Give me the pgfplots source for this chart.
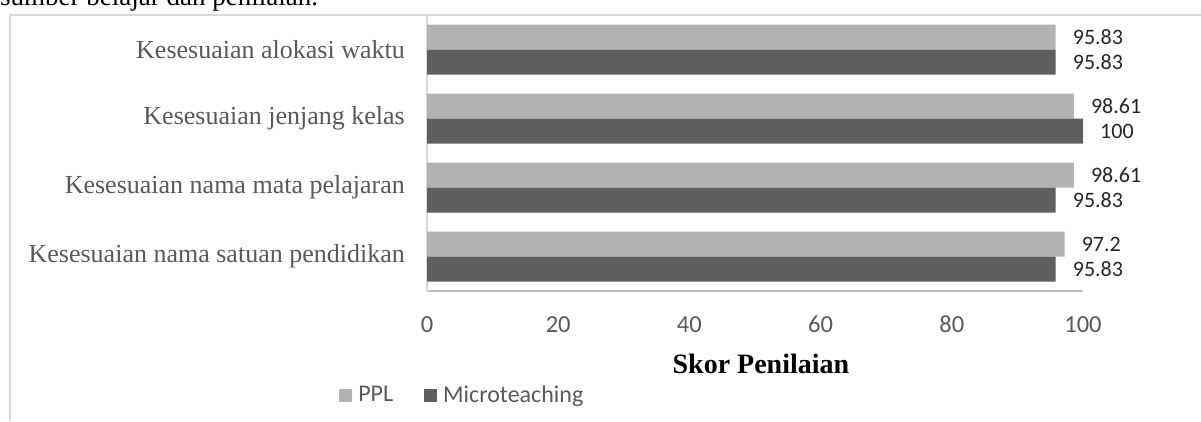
\documentclass[border=0pt]{standalone}
\usepackage{fontspec}
\setmainfont{Liberation Serif}
\newfontfamily\calibri{Carlito}
\usepackage{pgfplots}
\pgfplotsset{compat=1.18}
\usepackage{pgfplotstable}
\definecolor{ppl}{HTML}{B2B2B2}
\definecolor{micro}{HTML}{5F5F5F}
\definecolor{txtgrey}{HTML}{595959}
\definecolor{framegrey}{HTML}{D9D9D9}
\definecolor{axisgrey}{HTML}{BFBFBF}
\pgfplotstableread{
y ppl pplL micro microL
0 97.2 97.2 95.83 95.83
1 98.61 98.61 95.83 95.83
2 98.61 98.61 100 100
3 95.83 95.83 95.83 95.83
}\data
\begin{document}
\begin{tikzpicture}[x=1pt,y=1pt]
\useasboundingbox (0pt,0pt) rectangle (1201pt,-421pt);
\node[anchor=base west, font=\fontsize{27}{30}\selectfont, inner sep=0pt] at (0pt,-5pt) {sumber belajar dan penilaian.};
\draw[framegrey, line width=2pt] (10pt,-421pt) -- (10pt,-15pt) -- (1201pt,-15pt);
\begin{axis}[
  at={(427pt,-291pt)}, anchor=south west,
  scale only axis, width=656pt, height=276pt,
  xbar, bar width=25pt,
  xmin=0, xmax=100, ymin=-0.5, ymax=3.5,
  xtick={0,20,...,100}, ytick={0,1,2,3},
  yticklabels={Kesesuaian nama satuan pendidikan, Kesesuaian nama mata pelajaran, Kesesuaian jenjang kelas, Kesesuaian alokasi waktu},
  axis x line*=bottom, axis y line*=left,
  x axis line style={axisgrey, line width=1.5pt, -},
  y axis line style={framegrey, line width=1.5pt, -},
  major tick length=0pt,
  /pgf/number format/assume math mode=true,
  x tick label style={font=\calibri\fontsize{24.5}{26}\selectfont, text=txtgrey, inner sep=0pt, anchor=north, yshift=-25pt},
  y tick label style={font=\fontsize{26}{28}\selectfont, text=txtgrey, inner sep=0pt, anchor=east, xshift=-22pt},
  clip=false,
  nodes near coords, point meta=explicit symbolic,
  every node near coord/.append style={font=\calibri\fontsize{22}{23}\selectfont, text=black!85, anchor=west, inner sep=0pt, xshift=17pt},
  xlabel={Skor Penilaian},
  xlabel style={font=\bfseries\fontsize{28}{30}\selectfont, at={(axis description cs:0.509,0)}, anchor=center, yshift=-73pt},
  legend columns=2,
  legend image code/.code={\fill[#1] (0pt,-6.5pt) rectangle (13pt,6.5pt);},
  legend style={at={(axis description cs:-0.134,-0.3768)}, anchor=west, draw=none, fill=none, inner sep=0pt,
    font=\calibri\fontsize{24}{26}\selectfont, text=txtgrey,
    nodes={inner sep=0pt, anchor=west}, column sep=6pt,
    /tikz/every even column/.append style={column sep=31pt}},
]
\addplot[fill=ppl, draw=none, bar shift=12.5pt] table[x=ppl, y=y, meta=pplL] {\data};
\addplot[fill=micro, draw=none, bar shift=-12.5pt] table[x=micro, y=y, meta=microL] {\data};
\legend{PPL, Microteaching}
\end{axis}
\end{tikzpicture}
\end{document}
